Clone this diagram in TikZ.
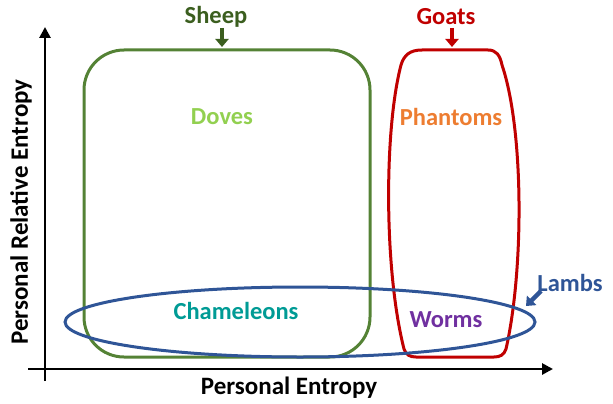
\documentclass[tikz,border=0pt]{standalone}
\usepackage{fontspec}
\setmainfont{Carlito}
\usetikzlibrary{arrows.meta,shapes.geometric}
\definecolor{sheepg}{HTML}{548235}
\definecolor{sheept}{HTML}{3B5E1F}
\definecolor{goatr}{HTML}{C00000}
\definecolor{lambb}{HTML}{2F5597}
\definecolor{doveg}{HTML}{92D050}
\definecolor{phant}{HTML}{ED7D31}
\definecolor{chamt}{HTML}{009B95}
\definecolor{wormp}{HTML}{7030A0}
\tikzset{
  lbl/.style={font=\bfseries\fontsize{24.5}{26}\selectfont, inner sep=0pt},
  axlbl/.style={font=\bfseries\fontsize{25}{26}\selectfont, inner sep=0pt},
  axis/.style={line width=2.8pt, -{Triangle[length=11pt,width=11pt]}},
  blockarrow/.style={line width=4.5pt, -{Triangle[length=8pt,width=13pt]}},
  shapeline/.style={line width=3pt},
}
\begin{document}
\begin{tikzpicture}[x=1pt,y=-1pt]
\useasboundingbox (0,0) rectangle (613,404);
% axes
\coordinate (ybot) at (45,381);
\coordinate (ytop) at (45,27);
\coordinate (xl) at (28,369);
\coordinate (xr) at (553,369);
\draw[axis] (ybot) -- (ytop);
\draw[axis] (xl) -- (xr);
\node[axlbl] (xlab) at (289,388) {Personal Entropy};
\node[axlbl, rotate=90] (ylab) at (21,212) {Personal Relative Entropy};
% sheep box
\node[draw=sheepg, shapeline, rounded corners=40pt, minimum width=286pt, minimum height=307pt, inner sep=0pt] (sheepbox) at (227,203.5) {};
% goats barrel
\draw[goatr, shapeline]
  (422,50) -- (488,50) .. controls (496,50) and (500,55) .. (502,65)
  .. controls (524,130) and (524,270) .. (506,349)
  .. controls (504,355) and (500,357) .. (494,357)
  -- (416,357) .. controls (410,357) and (406,355) .. (404,349)
  .. controls (384,270) and (384,130) .. (401,65)
  .. controls (404,55) and (410,50) .. (422,50) -- cycle;
% lambs ellipse
\node[draw=lambb, shapeline, ellipse, minimum width=470pt, minimum height=70pt, inner sep=0pt] (lambell) at (300,322) {};
% labels
\node[lbl, text=sheept] (sheep) at (216,17) {Sheep};
\node[lbl, text=goatr] (goats) at (446,17) {Goats};
\node[lbl, text=lambb] (lambs) at (570,283) {Lambs};
\node[lbl, text=doveg] (doves) at (222,117) {Doves};
\node[lbl, text=phant] (phantoms) at (451,117) {Phantoms};
\node[lbl, text=chamt] (chameleons) at (236,311) {Chameleons};
\node[lbl, text=wormp] (worms) at (446,320) {Worms};
% pointer arrows
\coordinate (sheeptip) at (222,47);
\coordinate (goatstip) at (452,47);
\coordinate (lambstip) at (526,306);
\draw[blockarrow, sheept] (222,28) -- (sheeptip);
\draw[blockarrow, goatr] (452,28) -- (goatstip);
\draw[blockarrow, lambb] (541,291) -- (lambstip);
\end{tikzpicture}
\end{document}
